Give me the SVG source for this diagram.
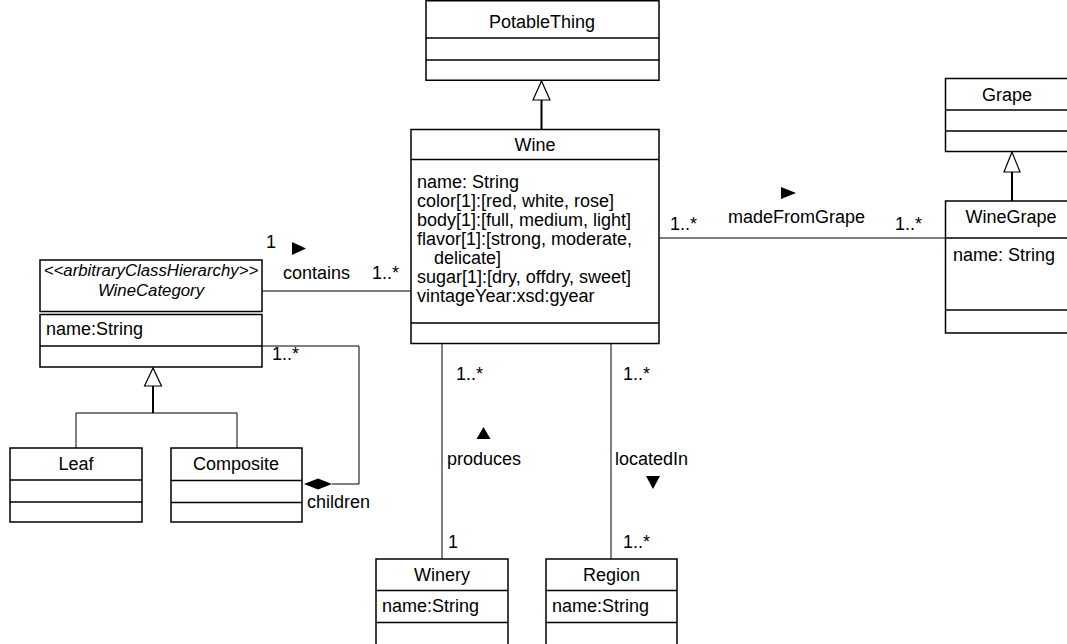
<svg xmlns="http://www.w3.org/2000/svg" width="1067" height="644" viewBox="0 0 1067 644">
<style>
  text { font-family: "Liberation Sans", Arial, sans-serif; font-size: 18px; fill: #000; }
  .c { text-anchor: middle; }
  .i { font-style: italic; font-size: 16.8px; }
  .box { fill: #fff; stroke: #000; stroke-width: 1.5; }
  .div { stroke: #000; stroke-width: 1.5; fill: none; }
  .assoc { stroke: #000; stroke-width: 1; fill: none; }
  .gen { stroke: #000; stroke-width: 2; fill: none; }
  .tri { fill: #fff; stroke: #000; stroke-width: 1.2; }
</style>
<rect width="1067" height="644" fill="#fff"/>

<g id="connectors">
  <!-- PotableThing <- Wine -->
  <line class="gen" x1="541.5" y1="100" x2="541.5" y2="129"/>
  <polygon class="tri" points="541.5,81 533,100 550,100"/>
  <!-- Grape <- WineGrape -->
  <line class="gen" x1="1012" y1="172" x2="1012" y2="201"/>
  <polygon class="tri" points="1012,152 1004,172 1020,172"/>
  <!-- WineCategory <- Leaf, Composite -->
  <line class="gen" x1="153" y1="386" x2="153" y2="413"/>
  <polygon class="tri" points="153,368 144.5,386 161.5,386"/>
  <polyline class="assoc" points="76,448 76,413 237,413 237,448"/>
  <!-- contains -->
  <line class="assoc" x1="262" y1="291" x2="411" y2="291"/>
  <!-- madeFromGrape -->
  <line class="assoc" x1="659" y1="238" x2="945" y2="238"/>
  <!-- produces -->
  <line class="assoc" x1="442" y1="344" x2="442" y2="559"/>
  <!-- locatedIn -->
  <line class="assoc" x1="611" y1="344" x2="611" y2="559"/>
  <!-- children -->
  <polyline class="assoc" points="262,346 359,346 359,484 332,484"/>
  <polygon points="304,484 318,478.5 332,484 318,489.5" fill="#000"/>

  <text x="266" y="248">1</text>
  <polygon points="292,242 306,248.5 292,255" fill="#000"/>
  <text x="283" y="279">contains</text>
  <text x="372" y="279">1..*</text>

  <text x="670" y="230">1..*</text>
  <polygon points="781,187 796,193 781,199" fill="#000"/>
  <text x="728" y="223">madeFromGrape</text>
  <text x="895" y="230">1..*</text>

  <text x="456" y="380">1..*</text>
  <polygon points="483.5,427 490.5,439 476.5,439" fill="#000"/>
  <text x="447" y="465">produces</text>
  <text x="448" y="548">1</text>

  <text x="623" y="380">1..*</text>
  <text x="615" y="465">locatedIn</text>
  <polygon points="646,476 660,476 653,489" fill="#000"/>
  <text x="623" y="548">1..*</text>

  <text x="272" y="360">1..*</text>
  <text x="307" y="508">children</text>
</g>

<g id="PotableThing">
  <rect class="box" x="426" y="0.75" width="233" height="79.5"/>
  <line class="div" x1="426" y1="38" x2="659" y2="38"/>
  <line class="div" x1="426" y1="60" x2="659" y2="60"/>
  <text class="c" x="542" y="28">PotableThing</text>
</g>

<g id="Wine">
  <rect class="box" x="411" y="129.5" width="248" height="214"/>
  <line class="div" x1="411" y1="159.5" x2="659" y2="159.5"/>
  <line class="div" x1="411" y1="323" x2="659" y2="323"/>
  <text class="c" x="535" y="151">Wine</text>
  <text x="417" y="188">name: String</text>
  <text x="417" y="207">color[1]:[red, white, rose]</text>
  <text x="417" y="226">body[1]:[full, medium, light]</text>
  <text x="417" y="245">flavor[1]:[strong, moderate,</text>
  <text x="434" y="264">delicate]</text>
  <text x="417" y="283">sugar[1]:[dry, offdry, sweet]</text>
  <text x="417" y="302">vintageYear:xsd:gyear</text>
</g>

<g id="Grape">
  <rect class="box" x="945.5" y="78.5" width="134" height="73"/>
  <line class="div" x1="945.5" y1="110" x2="1079.5" y2="110"/>
  <line class="div" x1="945.5" y1="131" x2="1079.5" y2="131"/>
  <text class="c" x="1007" y="101">Grape</text>
</g>

<g id="WineGrape">
  <rect class="box" x="945.5" y="201" width="134" height="132"/>
  <line class="div" x1="945.5" y1="238" x2="1079.5" y2="238"/>
  <line class="div" x1="945.5" y1="310" x2="1079.5" y2="310"/>
  <text class="c" x="1011" y="223">WineGrape</text>
  <text x="953" y="261">name: String</text>
</g>

<g id="WineCategory">
  <rect class="box" x="40" y="260" width="222" height="51.5"/>
  <rect class="box" x="40" y="314.5" width="222" height="52.5"/>
  <line class="div" x1="40" y1="346" x2="262" y2="346"/>
  <text class="c i" x="151" y="276">&lt;&lt;arbitraryClassHierarchy&gt;&gt;</text>
  <text class="c i" x="151" y="296">WineCategory</text>
  <text x="46" y="335">name:String</text>
</g>

<g id="Leaf">
  <rect class="box" x="10" y="448" width="132" height="74"/>
  <line class="div" x1="10" y1="480" x2="142" y2="480"/>
  <line class="div" x1="10" y1="502" x2="142" y2="502"/>
  <text class="c" x="76" y="470">Leaf</text>
</g>

<g id="Composite">
  <rect class="box" x="171" y="448" width="131" height="74"/>
  <line class="div" x1="171" y1="480.5" x2="302" y2="480.5"/>
  <line class="div" x1="171" y1="502.5" x2="302" y2="502.5"/>
  <text class="c" x="236" y="470">Composite</text>
</g>

<g id="Winery">
  <rect class="box" x="376" y="559" width="132" height="95"/>
  <line class="div" x1="376" y1="590.5" x2="508" y2="590.5"/>
  <line class="div" x1="376" y1="622.5" x2="508" y2="622.5"/>
  <text class="c" x="442" y="581">Winery</text>
  <text x="382" y="612">name:String</text>
</g>

<g id="Region">
  <rect class="box" x="546" y="559" width="131" height="95"/>
  <line class="div" x1="546" y1="590.5" x2="677" y2="590.5"/>
  <line class="div" x1="546" y1="622.5" x2="677" y2="622.5"/>
  <text class="c" x="611.5" y="581">Region</text>
  <text x="552" y="612">name:String</text>
</g>
</svg>
